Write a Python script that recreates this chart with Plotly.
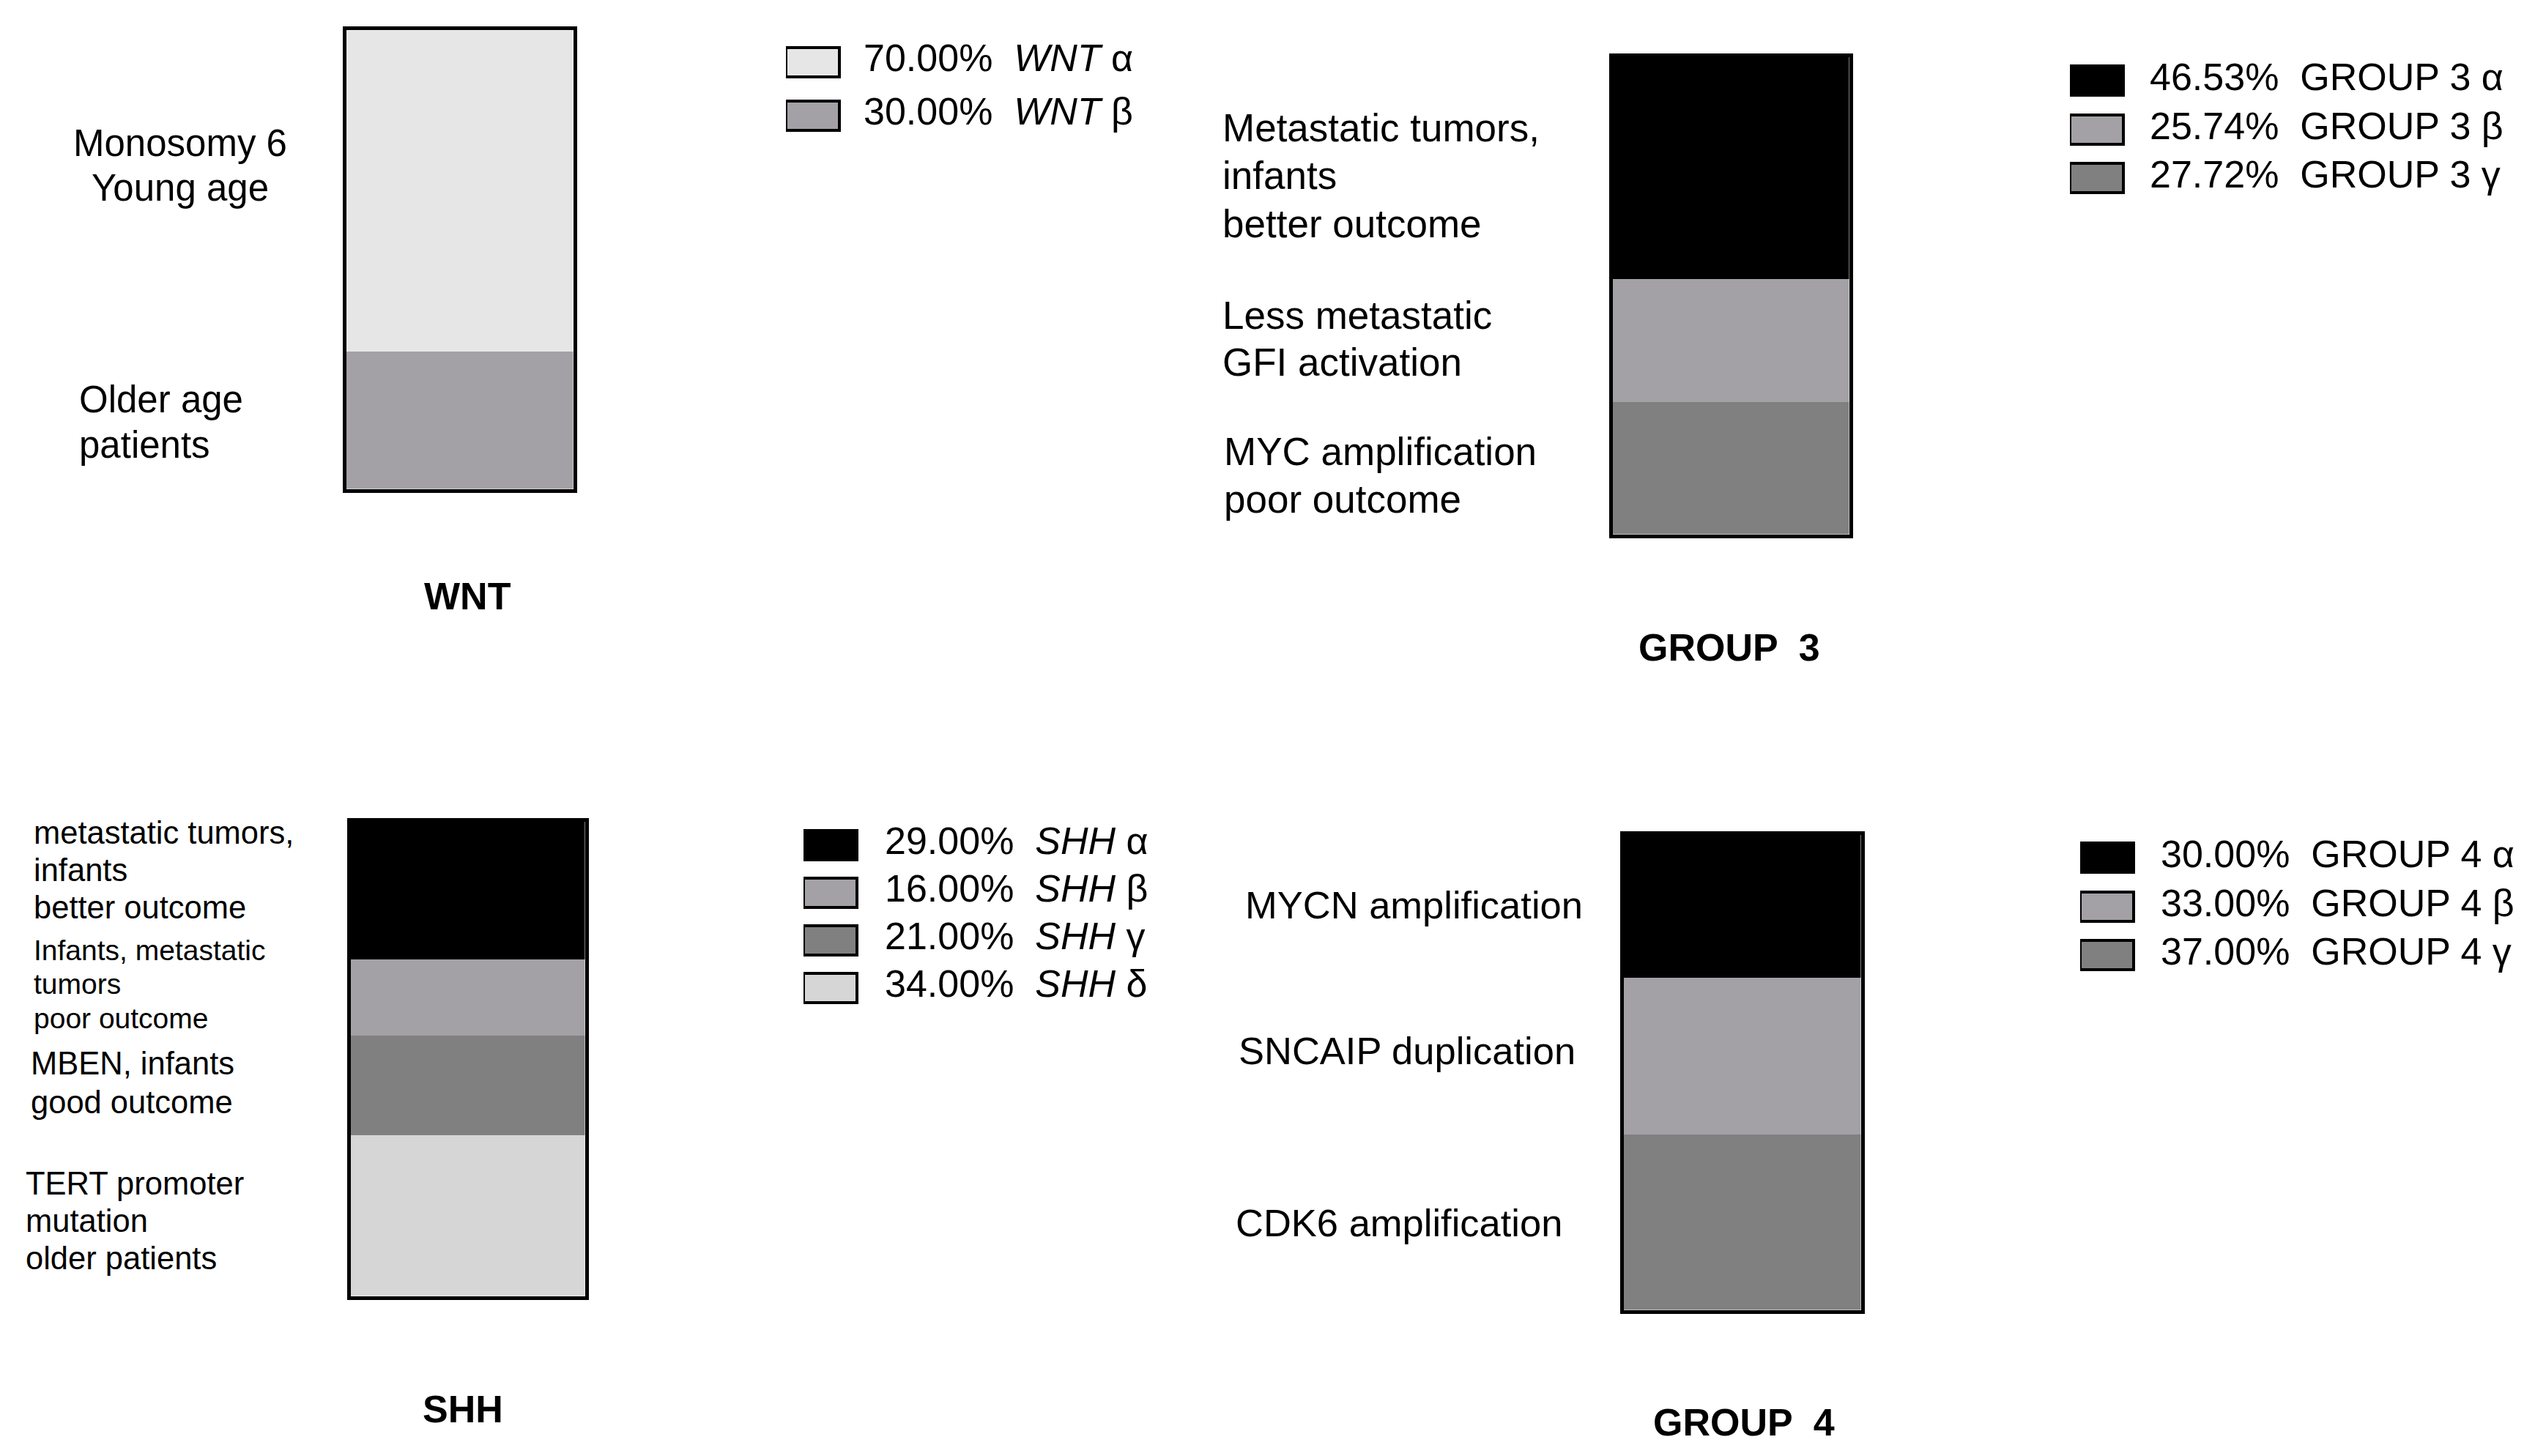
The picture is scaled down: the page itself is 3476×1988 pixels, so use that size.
import plotly.graph_objects as go

W, H = 3476, 1988
PAGE = 8  # default body margin of the html page
FONT = "Liberation Sans, Arial, sans-serif"

# subgroup shares (%) per medulloblastoma group
wnt_names = ["<i>WNT</i> α", "<i>WNT</i> β"]
wnt_values = [70.00, 30.00]
g3_names = ["GROUP 3 α", "GROUP 3 β", "GROUP 3 γ"]
g3_values = [46.53, 25.74, 27.72]
shh_names = ["<i>SHH</i> α", "<i>SHH</i> β", "<i>SHH</i> γ", "<i>SHH</i> δ"]
shh_values = [29.00, 16.00, 21.00, 34.00]
g4_names = ["GROUP 4 α", "GROUP 4 β", "GROUP 4 γ"]
g4_values = [30.00, 33.00, 37.00]

group_titles = ["WNT", "GROUP  3", "SHH", "GROUP  4"]

wnt_notes = [["Monosomy 6", "Young age"], ["Older age", "patients"]]
g3_notes = [["Metastatic tumors,", "infants", "better outcome"],
            ["Less metastatic", "GFI activation"],
            ["MYC amplification", "poor outcome"]]
shh_notes = [["metastatic tumors,", "infants", "better outcome"],
             ["Infants, metastatic", "tumors", "poor outcome"],
             ["MBEN, infants", "good outcome"],
             ["TERT promoter", "mutation", "older patients"]]
g4_notes = [["MYCN amplification"], ["SNCAIP duplication"], ["CDK6 amplification"]]

# styles / layout (pixels of the 3476x1988 page)
wnt_colors = ["#e6e6e6", "#a3a1a6"]
g3_colors = ["#000000", "#a3a1a6", "#808080"]
shh_colors = ["#000000", "#a3a1a6", "#808080", "#d6d6d6"]
g4_colors = ["#000000", "#a3a1a6", "#808080"]

panels = [
    dict(names=wnt_names, values=wnt_values, colors=wnt_colors, notes=wnt_notes,
         bar=(468, 36, 787, 672), title=(638, 814),
         legend=(1073, 84, 73, 1179),
         note_pos=[(246, 195, 62, 51, "center"), (106, 545, 62, 51, "left")]),
    dict(names=g3_names, values=g3_values, colors=g3_colors, notes=g3_notes,
         bar=(2197, 73, 2529, 734), title=(2361, 884),
         legend=(2826, 110, 66.5, 2935),
         note_pos=[(1667, 175, 65, 53, "left"), (1667, 430, 64, 53, "left"),
                   (1669, 616, 65, 53, "left")]),
    dict(names=shh_names, values=shh_values, colors=shh_colors, notes=shh_notes,
         bar=(474, 1117, 803, 1774), title=(632, 1924),
         legend=(1097, 1153, 65, 1208),
         note_pos=[(44, 1137, 51, 43.5, "left"), (44, 1297, 46.5, 39, "left"),
                   (40, 1452, 53, 43.5, "left"), (33, 1616, 51, 43.5, "left")]),
    dict(names=g4_names, values=g4_values, colors=g4_colors, notes=g4_notes,
         bar=(2212, 1135, 2545, 1793), title=(2381, 1942),
         legend=(2840, 1171, 66.5, 2950),
         note_pos=[(1698, 1235, 0, 52.5, "left"), (1689, 1434, 0, 52.5, "left"),
                   (1685, 1669, 0, 52.5, "left")]),
]


def fx(px):
    return (px - PAGE) / W


def fy(py):
    return 1 - (py - PAGE) / H


fig = go.Figure()
annotations = []
axes = {}
SWATCH_H = 40
LEG_W = 580
LW = 4.5

for i, p in enumerate(panels):
    nb, nl = 2 * i + 1, 2 * i + 2
    xb, yb = ("x", "y") if nb == 1 else (f"x{nb}", f"y{nb}")
    xl, yl = f"x{nl}", f"y{nl}"

    # stacked bar, alpha on top
    for name, v, c in zip(p["names"], p["values"], p["colors"]):
        fig.add_trace(go.Bar(x=[0], y=[v], width=1, name=name,
                             marker=dict(color=c, line=dict(width=0)),
                             xaxis=xb, yaxis=yb, hoverinfo="skip"))
    x0, y0, x1, y1 = p["bar"]
    box = dict(showline=True, mirror=True, linecolor="black", linewidth=LW,
               showgrid=False, zeroline=False, showticklabels=False, ticks="")
    axes["xaxis" if nb == 1 else f"xaxis{nb}"] = dict(
        box, domain=[fx(x0 + LW), fx(x1 - LW)], range=[-0.5, 0.5],
        anchor="y" if nb == 1 else f"y{nb}")
    axes["yaxis" if nb == 1 else f"yaxis{nb}"] = dict(
        box, domain=[fy(y1 - LW), fy(y0 + LW)], range=[100, 0],
        anchor="x" if nb == 1 else f"x{nb}")

    # legend: swatches + labels
    n = len(p["values"])
    lx, ly, step, tx = p["legend"]
    swatch_w = 73
    labels = [f"{v:.2f}%  {name}" for v, name in zip(p["values"], p["names"])]
    fig.add_trace(go.Bar(x=[1] * n, y=list(range(n)), orientation="h",
                         width=SWATCH_H / step,
                         marker=dict(color=p["colors"], line=dict(color="black", width=4)),
                         xaxis=xl, yaxis=yl, hoverinfo="skip"))
    fig.add_trace(go.Scatter(x=[(tx - lx) / swatch_w] * n, y=list(range(n)),
                             mode="text", text=labels, textposition="middle right",
                             textfont=dict(size=52, color="black", family=FONT),
                             cliponaxis=False, xaxis=xl, yaxis=yl, hoverinfo="skip"))
    hidden = dict(visible=False, showgrid=False, zeroline=False)
    axes[f"xaxis{nl}"] = dict(hidden, domain=[fx(lx), fx(lx + LEG_W)],
                              range=[0, LEG_W / swatch_w], anchor=yl)
    top = ly - step / 2
    axes[f"yaxis{nl}"] = dict(hidden, domain=[fy(top + n * step), fy(top)],
                              range=[n - 0.5, -0.5], anchor=xl)

    # group title
    annotations.append(dict(text=f"<b>{group_titles[i]}</b>", x=fx(p["title"][0]),
                            y=fy(p["title"][1]), xref="paper", yref="paper",
                            xanchor="center", yanchor="middle", showarrow=False,
                            font=dict(size=52, color="black", family=FONT)))

    # side notes, one annotation per line
    for lines, (nx, ny, nstep, size, align) in zip(p["notes"], p["note_pos"]):
        for k, line in enumerate(lines):
            annotations.append(dict(text=line, x=fx(nx), y=fy(ny + k * nstep),
                                    xref="paper", yref="paper", xanchor=align,
                                    yanchor="middle", showarrow=False,
                                    font=dict(size=size, color="black", family=FONT)))

fig.update_layout(
    width=W,
    height=H,
    margin=dict(l=0, r=0, t=0, b=0),
    barmode="stack",
    bargap=0,
    plot_bgcolor="white",
    paper_bgcolor="white",
    showlegend=False,
    font=dict(family=FONT, color="black"),
    annotations=annotations,
    **axes)

fig.write_html("out.html")
